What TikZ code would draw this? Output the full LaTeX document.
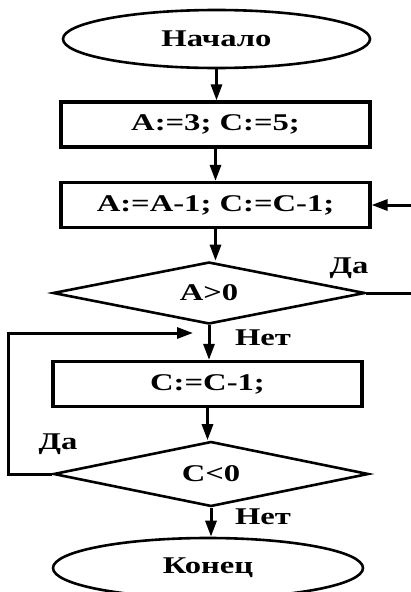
\documentclass[tikz,border=0pt]{standalone}
\usepackage{fontspec}
\setmainfont[FakeStretch=1.36]{Liberation Serif}
\usetikzlibrary{shapes.geometric,arrows.meta}
\tikzset{
	term/.style={draw,ellipse,line width=2.6pt,minimum width=307pt,minimum height=58pt,inner sep=0pt},
	proc/.style={draw,rectangle,line width=3.2pt,minimum width=309pt,minimum height=45pt,inner sep=0pt},
	cond/.style={draw,diamond,aspect=5,line width=2.6pt,inner sep=0pt},
	arr/.style={line width=3pt,-{Triangle[length=16pt,width=11pt]}},
	lbl/.style={inner sep=0pt}
}
\begin{document}
\begin{tikzpicture}[x=1pt,y=-1pt,font=\fontsize{24}{26}\selectfont\bfseries]
	\useasboundingbox (0,0) rectangle (411,592);
	\node[term] (start) at (216.5,39) {Начало};
	\node[proc] (set) at (215.5,124.5) {A:=3; C:=5;};
	\node[proc] (dec) at (215.5,205) {A:=A-1; C:=C-1;};
	\node[cond,minimum width=312pt,minimum height=62pt] (ifa) at (209,293) {A>0};
	\node[proc] (decc) at (207.5,384) {C:=C-1;};
	\node[cond,minimum width=315pt,minimum height=65pt] (ifc) at (211,474) {C<0};
	\node[term,minimum width=310pt,minimum height=60pt] (stop) at (208,568) {Конец};
	\coordinate (back) at (193,333);
	\draw[arr] (start.south) -- (start.south |- set.north);
	\draw[arr] (set.south) -- (set.south |- dec.north);
	\draw[arr] (dec.south) -- (dec.south |- ifa.north);
	\draw[arr] (ifa.south) -- (ifa.south |- decc.north);
	\draw[arr] (decc.south) -- (decc.south |- ifc.north);
	\draw[arr] (ifc.south) -- (ifc.south |- stop.north);
	\draw[arr] (ifa.east) -- ++(52,0) |- (dec.east);
	\draw[arr] (ifc.west) -- ++(-44,0) |- (back);
	\node[lbl] (ya) at (349,268) {Да};
	\node[lbl] (na) at (263,338) {Нет};
	\node[lbl] (yc) at (58,444) {Да};
	\node[lbl] (nc) at (263,517) {Нет};
\end{tikzpicture}
\end{document}
